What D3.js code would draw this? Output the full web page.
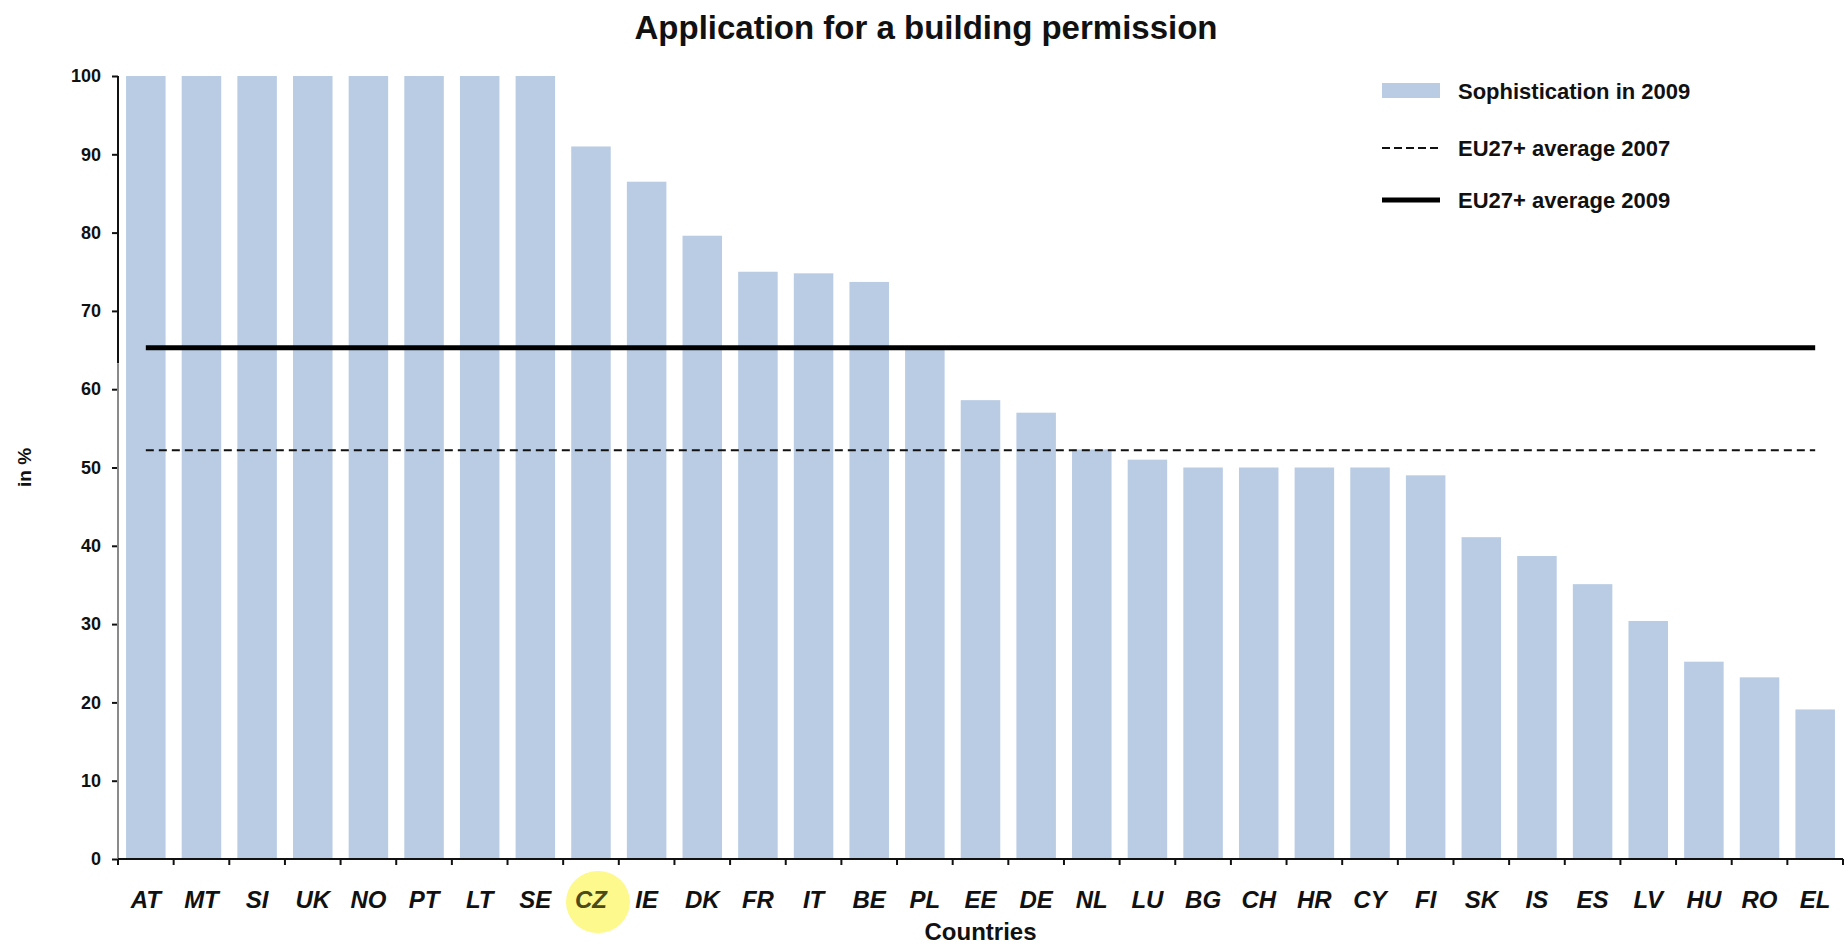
<!DOCTYPE html>
<html>
<head>
<meta charset="utf-8">
<script src="https://cdn.jsdelivr.net/npm/d3@7"></script>
<style>
  html, body { margin: 0; padding: 0; background: #ffffff; }
  svg { display: block; font-family: "Liberation Sans", Arial, sans-serif; }
</style>
</head>
<body>
<svg id="chart" width="1848" height="946"></svg>
<script>
// Sophistication of the "building permission" e-service, 2009 (in %)
const countries = ["AT","MT","SI","UK","NO","PT","LT","SE","CZ","IE","DK","FR","IT","BE","PL",
                   "EE","DE","NL","LU","BG","CH","HR","CY","FI","SK","IS","ES","LV","HU","RO","EL"];
const sophistication2009 = [100,100,100,100,100,100,100,100,91,86.5,79.6,75,74.8,73.7,65.2,
                            58.6,57,52.3,51,50,50,50,50,49,41.1,38.7,35.1,30.4,25.2,23.2,19.1];
const euAverage2007 = 52.2;
const euAverage2009 = 65.3;
const yTicks = [0,10,20,30,40,50,60,70,80,90,100];
const highlighted = "CZ";

const svg = d3.select("#chart");
const plot = { left: 118, right: 1843, top: 76, bottom: 859 };

const x = d3.scaleBand()
  .domain(countries)
  .range([plot.left, plot.right])
  .paddingInner(0.29)
  .paddingOuter(0.145);

const y = d3.scaleLinear().domain([0, 100]).range([plot.bottom, plot.top]);

// Title
svg.append("text")
  .attr("x", 926).attr("y", 39)
  .attr("text-anchor", "middle")
  .attr("font-size", 33).attr("font-weight", "bold")
  .attr("fill", "#111")
  .text("Application for a building permission");

// Highlight behind the Czech label
svg.append("ellipse")
  .attr("cx", x(highlighted) + x.bandwidth() / 2 + 7)
  .attr("cy", 902)
  .attr("rx", 32).attr("ry", 31)
  .attr("fill", "#fdf98c");

// Bars
svg.append("g").selectAll("rect")
  .data(countries)
  .join("rect")
  .attr("x", d => x(d))
  .attr("width", x.bandwidth())
  .attr("y", (d, i) => y(sophistication2009[i]))
  .attr("height", (d, i) => y(0) - y(sophistication2009[i]))
  .attr("fill", "#b9cce4");

// EU averages, drawn from the first to the last category centre
const xFirst = x(countries[0]) + x.bandwidth() / 2;
const xLast = x(countries[countries.length - 1]) + x.bandwidth() / 2;

svg.append("line")
  .attr("x1", xFirst).attr("x2", xLast)
  .attr("y1", y(euAverage2007)).attr("y2", y(euAverage2007))
  .attr("stroke", "#111").attr("stroke-width", 2)
  .attr("stroke-dasharray", "8,5");

svg.append("line")
  .attr("x1", xFirst).attr("x2", xLast)
  .attr("y1", y(euAverage2009)).attr("y2", y(euAverage2009))
  .attr("stroke", "#000").attr("stroke-width", 5);

// Y axis
const yAxis = d3.axisLeft(y).tickValues(yTicks).tickSize(6).tickPadding(11).tickSizeOuter(0);
const gy = svg.append("g").attr("transform", `translate(${plot.left},0)`).call(yAxis);
gy.select(".domain").remove();
gy.selectAll(".tick line").attr("stroke", "#111").attr("stroke-width", 2);
gy.selectAll(".tick text")
  .attr("font-size", 18).attr("font-weight", "bold")
  .attr("font-family", "'Liberation Sans', Arial, sans-serif")
  .attr("fill", "#111");
// axis line: dark in the upper part, lighter below
gy.append("line").attr("x1", 0).attr("x2", 0)
  .attr("y1", y(100)).attr("y2", y(63.3))
  .attr("stroke", "#111").attr("stroke-width", 2);
gy.append("line").attr("x1", 0).attr("x2", 0)
  .attr("y1", y(63.3)).attr("y2", y(0))
  .attr("stroke", "#8a8a8a").attr("stroke-width", 2);

// X axis: ticks on category boundaries
const gx = svg.append("g").attr("transform", `translate(0,${plot.bottom})`);
gx.append("line")
  .attr("x1", plot.left).attr("x2", plot.right)
  .attr("stroke", "#111").attr("stroke-width", 2);
const boundaries = d3.range(countries.length + 1).map(i => plot.left + i * x.step());
gx.selectAll("line.tick")
  .data(boundaries)
  .join("line")
  .attr("class", "tick")
  .attr("x1", d => d).attr("x2", d => d)
  .attr("y1", 0).attr("y2", 6)
  .attr("stroke", "#111").attr("stroke-width", 2);
gx.selectAll("text")
  .data(countries)
  .join("text")
  .attr("x", d => x(d) + x.bandwidth() / 2)
  .attr("y", 49)
  .attr("text-anchor", "middle")
  .attr("font-size", 24).attr("font-weight", "bold").attr("font-style", "italic")
  .attr("fill", d => d === highlighted ? "#4a4a1a" : "#111")
  .text(d => d);

// Axis titles
svg.append("text")
  .attr("x", (plot.left + plot.right) / 2).attr("y", 940)
  .attr("text-anchor", "middle")
  .attr("font-size", 24).attr("font-weight", "bold")
  .attr("fill", "#111")
  .text("Countries");

svg.append("text")
  .attr("transform", `translate(31,${(plot.top + plot.bottom) / 2}) rotate(-90)`)
  .attr("text-anchor", "middle")
  .attr("font-size", 19).attr("font-weight", "bold")
  .attr("fill", "#111")
  .text("in %");

// Legend
const legend = svg.append("g").attr("transform", "translate(1382,0)");
legend.append("rect").attr("x", 0).attr("y", 83).attr("width", 58).attr("height", 15).attr("fill", "#b9cce4");
legend.append("line").attr("x1", 0).attr("x2", 58).attr("y1", 148).attr("y2", 148)
  .attr("stroke", "#111").attr("stroke-width", 2).attr("stroke-dasharray", "8,4");
legend.append("line").attr("x1", 0).attr("x2", 58).attr("y1", 200).attr("y2", 200)
  .attr("stroke", "#000").attr("stroke-width", 5);
const legendLabels = ["Sophistication in 2009", "EU27+ average 2007", "EU27+ average 2009"];
const legendY = [91, 148, 200];
legend.selectAll("text.lbl")
  .data(legendLabels)
  .join("text")
  .attr("class", "lbl")
  .attr("x", 76)
  .attr("y", (d, i) => legendY[i])
  .attr("dy", "0.36em")
  .attr("font-size", 22).attr("font-weight", "bold")
  .attr("fill", "#111")
  .text(d => d);
</script>
</body>
</html>
